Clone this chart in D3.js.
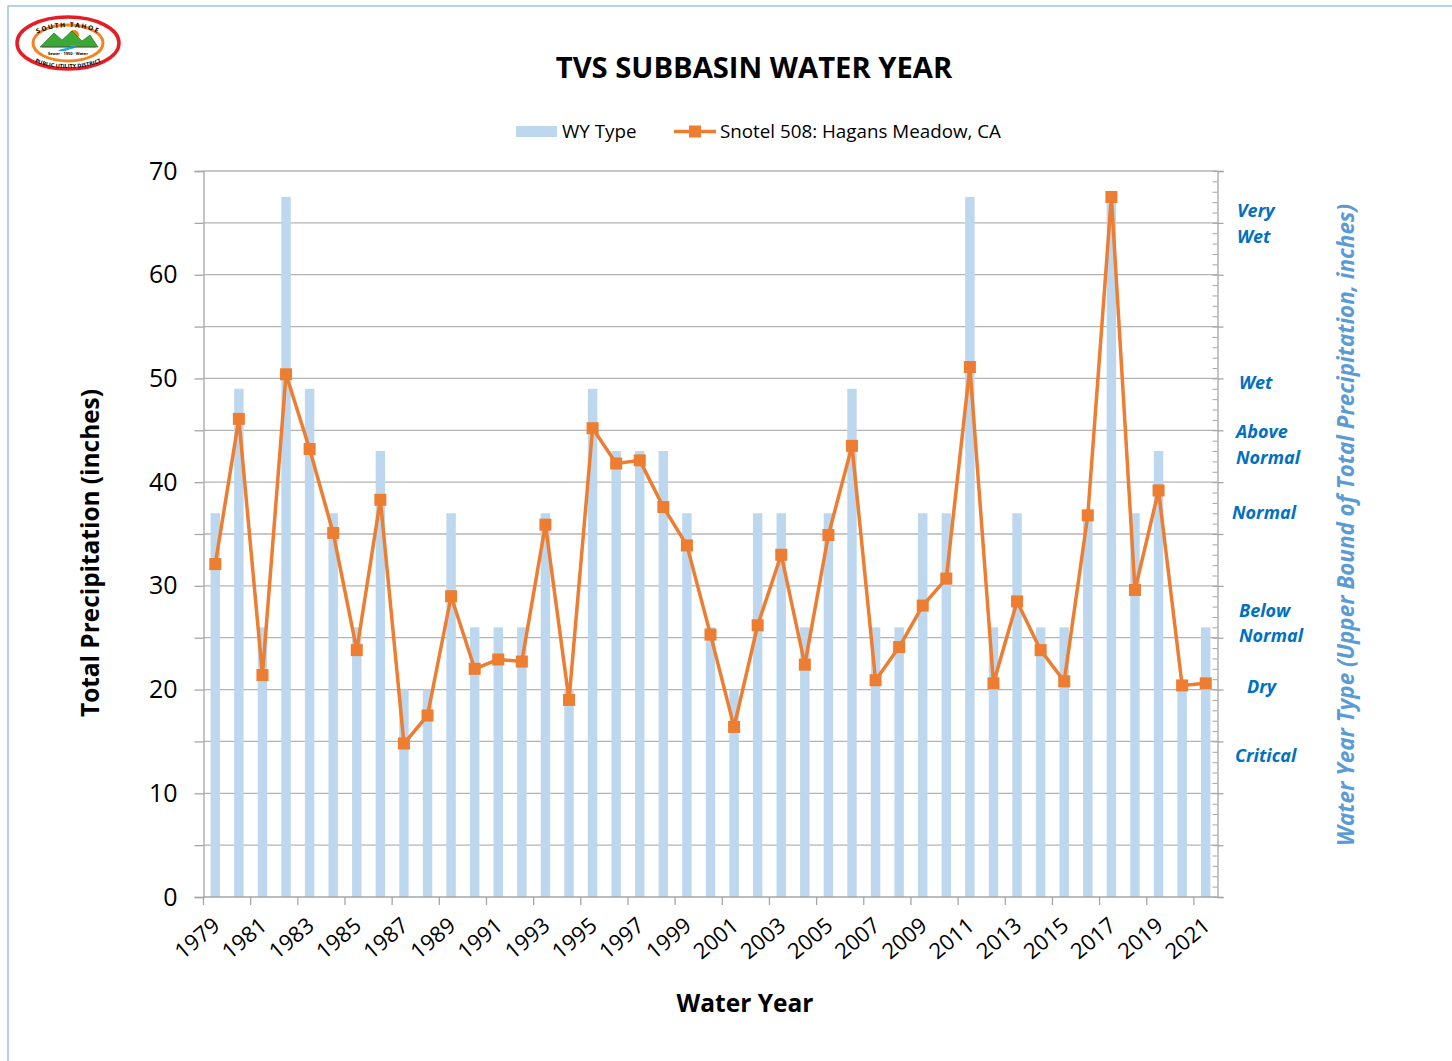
<!DOCTYPE html>
<html>
<head>
<meta charset="utf-8">
<title>TVS Subbasin Water Year</title>
<script src="https://cdn.jsdelivr.net/npm/d3@7"></script>
<style>
  body { margin: 0; background: #fff; }
  svg { display: block; font-family: "Open Sans", sans-serif; }
</style>
</head>
<body>
<div id="chart"></div>
<script>
// water years (categories)
var years = [1979, 1980, 1981, 1982, 1983, 1984, 1985, 1986, 1987, 1988,
             1989, 1990, 1991, 1992, 1993, 1994, 1995, 1996, 1997, 1998,
             1999, 2000, 2001, 2002, 2003, 2004, 2005, 2006, 2007, 2008,
             2009, 2010, 2011, 2012, 2013, 2014, 2015, 2016, 2017, 2018,
             2019, 2020, 2021];
// WY type = upper bound of the class (inches)
var wyType = [37, 49, 26, 67.5, 49, 37, 26, 43, 20, 20,
              37, 26, 26, 26, 37, 20, 49, 43, 43, 43,
              37, 26, 20, 37, 37, 26, 37, 49, 26, 26,
              37, 37, 67.5, 26, 37, 26, 26, 37, 67.5, 37,
              43, 20, 26];
// Snotel 508: Hagans Meadow, CA total precipitation (inches)
var snotel = [32.1, 46.1, 21.4, 50.4, 43.2, 35.1, 23.8, 38.3, 14.8, 17.5,
              29.0, 22.0, 22.9, 22.7, 35.9, 19.0, 45.2, 41.8, 42.1, 37.6,
              33.9, 25.3, 16.4, 26.2, 33.0, 22.4, 34.9, 43.5, 20.9, 24.1,
              28.1, 30.7, 51.1, 20.6, 28.5, 23.8, 20.8, 36.8, 67.5, 29.6,
              39.2, 20.4, 20.6];
var yTickLabels = [0, 10, 20, 30, 40, 50, 60, 70];
var xTickLabels = [1979, 1981, 1983, 1985, 1987, 1989, 1991, 1993, 1995, 1997, 1999,
                   2001, 2003, 2005, 2007, 2009, 2011, 2013, 2015, 2017, 2019, 2021];
// water year classes shown on the right axis, and where each label sits (inches)
var wyClasses = [["Very", "Wet"], ["Wet"], ["Above", "Normal"], ["Normal"],
                 ["Below", "Normal"], ["Dry"], ["Critical"]];
var wyClassAt = [64.9, 49.6, 43.6, 37.1, 26.4, 20.3, 13.6];

var W = 1452, H = 1061;
var plot = { left: 203.5, right: 1217.5, top: 171, bottom: 897 };
var axisGray = "#A6A6A6";

var svg = d3.select("#chart").append("svg")
    .attr("width", W)
    .attr("height", H);

// chart area border (left + top edges visible)
svg.append("path")
    .attr("d", "M8," + H + "V6H" + W)
    .attr("fill", "none")
    .attr("stroke", "#9DC3E6")
    .attr("stroke-width", 1.5);

// ---- logo ----
var logo = svg.append("g").attr("transform", "translate(68,43)");
logo.append("ellipse").attr("rx", 51).attr("ry", 26)
    .attr("fill", "#fff").attr("stroke", "#E31E24").attr("stroke-width", 3.5);
logo.append("ellipse").attr("rx", 35).attr("ry", 18)
    .attr("fill", "#fff").attr("stroke", "#F58220").attr("stroke-width", 3);
logo.append("circle").attr("cx", 6).attr("cy", -8).attr("r", 5).attr("fill", "#F58220");
logo.append("path")
    .attr("d", "M-28,4 L-14,-10 L-6,-3 L4,-12 L14,-2 L22,-8 L30,4 Z")
    .attr("fill", "#3BAA35").attr("stroke", "#1f5d1c").attr("stroke-width", 0.6);
logo.append("path")
    .attr("d", "M-10,8 C-6,4 4,6 2,2 L8,2 C10,6 0,6 -2,8 Z")
    .attr("fill", "#29ABE2");
logo.append("path")
    .attr("d", "M-26,4 H28")
    .attr("stroke", "#555").attr("stroke-width", 0.8);
var defs = svg.append("defs");
defs.append("path").attr("id", "logoTop")
    .attr("d", "M-40,-2 A43,22 0 0 1 40,-2");
defs.append("path").attr("id", "logoBot")
    .attr("d", "M-40,14 A42,16 0 0 0 40,14");
logo.append("text").attr("font-size", 6.5).attr("font-weight", "bold")
    .append("textPath").attr("href", "#logoTop").attr("startOffset", "50%")
    .attr("text-anchor", "middle").attr("letter-spacing", 1.5).text("SOUTH TAHOE");
logo.append("text").attr("font-size", 5.5).attr("font-weight", "bold")
    .append("textPath").attr("href", "#logoBot").attr("startOffset", "50%")
    .attr("text-anchor", "middle").text("PUBLIC UTILITY DISTRICT");
logo.append("text").attr("y", 12).attr("text-anchor", "middle")
    .attr("font-size", 4).attr("font-weight", "bold").text("Sewer · 1950 · Water");

// ---- title ----
svg.append("text")
    .attr("x", 754).attr("y", 78)
    .attr("text-anchor", "middle")
    .attr("font-size", 29.2).attr("font-weight", "bold")
    .text("TVS SUBBASIN WATER YEAR");

// ---- scales ----
var x = d3.scaleBand()
    .domain(years)
    .range([plot.left, plot.right])
    .paddingInner(0.6)
    .paddingOuter(0.3);
var y = d3.scaleLinear()
    .domain([0, 70])
    .range([plot.bottom, plot.top]);
var gap = (x.step() - x.bandwidth()) / 2;

// gridlines every 5
svg.append("g")
    .selectAll("line")
    .data(d3.range(5, 75, 5))
    .enter().append("line")
    .attr("x1", plot.left).attr("x2", plot.right)
    .attr("y1", d => y(d)).attr("y2", d => y(d))
    .attr("stroke", "#B4B4B4").attr("stroke-width", 1.3);

// left axis
var yAxis = svg.append("g")
    .attr("transform", "translate(" + plot.left + ",0)")
    .call(d3.axisLeft(y)
        .tickValues(d3.range(0, 75, 5))
        .tickSize(9)
        .tickPadding(17)
        .tickFormat(d => yTickLabels.indexOf(d) >= 0 ? d : ""));
yAxis.select(".domain").attr("stroke", axisGray).attr("stroke-width", 1.3);
yAxis.selectAll(".tick line").attr("stroke", axisGray).attr("stroke-width", 1.3);
yAxis.selectAll(".tick text").attr("font-size", 25).attr("fill", "#000")
    .attr("font-family", "Open Sans");

// right axis: major ticks crossing, minor ticks inside
var rMajor = svg.append("g")
    .attr("transform", "translate(" + plot.right + ",0)")
    .call(d3.axisRight(y).tickValues(d3.range(0, 75, 5)).tickSize(6).tickFormat(""));
rMajor.select(".domain").attr("stroke", axisGray).attr("stroke-width", 1.3);
rMajor.selectAll(".tick line").attr("stroke", axisGray).attr("stroke-width", 1.3);
var rMinor = svg.append("g")
    .attr("transform", "translate(" + plot.right + ",0)")
    .call(d3.axisLeft(y).tickValues(d3.range(0, 71, 1)).tickSize(5).tickFormat(""));
rMinor.select(".domain").remove();
rMinor.selectAll(".tick line").attr("stroke", axisGray).attr("stroke-width", 1);

// bars (WY type)
svg.append("g")
    .selectAll("rect")
    .data(years)
    .enter().append("rect")
    .attr("x", d => x(d))
    .attr("y", (d, i) => y(wyType[i]))
    .attr("width", x.bandwidth())
    .attr("height", (d, i) => plot.bottom - y(wyType[i]))
    .attr("fill", "#BDD7EE");

// bottom axis
svg.append("line")
    .attr("x1", plot.left).attr("x2", plot.right)
    .attr("y1", plot.bottom).attr("y2", plot.bottom)
    .attr("stroke", axisGray).attr("stroke-width", 1.3);
svg.append("g")
    .selectAll("line")
    .data(xTickLabels)
    .enter().append("line")
    .attr("x1", d => x(d) - gap).attr("x2", d => x(d) - gap)
    .attr("y1", plot.bottom).attr("y2", plot.bottom + 8)
    .attr("stroke", axisGray).attr("stroke-width", 1.3);
svg.append("g")
    .selectAll("text")
    .data(xTickLabels)
    .enter().append("text")
    .attr("transform", d => "translate(" + (x(d) + x.bandwidth() / 2 + 6) + "," + (plot.bottom + 31) + ") rotate(-40)")
    .attr("text-anchor", "end")
    .attr("font-size", 22)
    .text(d => d);

// Snotel line
var pts = years.map((yr, i) => ({ year: yr, v: snotel[i] }));
var orange = "#ED7D31";
svg.append("path")
    .datum(pts)
    .attr("d", d3.line().x(d => x(d.year) + x.bandwidth() / 2).y(d => y(d.v)))
    .attr("fill", "none")
    .attr("stroke", orange)
    .attr("stroke-width", 3.5)
    .attr("stroke-linejoin", "round");
svg.append("g")
    .selectAll("rect")
    .data(pts)
    .enter().append("rect")
    .attr("x", d => x(d.year) + x.bandwidth() / 2 - 6)
    .attr("y", d => y(d.v) - 6)
    .attr("width", 12).attr("height", 12)
    .attr("fill", orange);

// axis titles
svg.append("text")
    .attr("transform", "translate(99,553) rotate(-90)")
    .attr("text-anchor", "middle")
    .attr("font-size", 24.4).attr("font-weight", "bold")
    .text("Total Precipitation (inches)");
svg.append("text")
    .attr("x", 745).attr("y", 1012)
    .attr("text-anchor", "middle")
    .attr("font-size", 24.5).attr("font-weight", "bold")
    .text("Water Year");
svg.append("text")
    .attr("transform", "translate(1354,525) rotate(-90)")
    .attr("text-anchor", "middle")
    .attr("font-size", 22.4).attr("font-weight", "bold").attr("font-style", "italic")
    .attr("fill", "#5B9BD5")
    .text("Water Year Type (Upper Bound of Total Precipitation, inches)");

// class labels on the right
var classX = [1237, 1239, 1236, 1232, 1239, 1247, 1235];
var cls = svg.append("g")
    .selectAll("text")
    .data(wyClasses)
    .enter().append("text")
    .attr("x", (d, i) => classX[i])
    .attr("y", (d, i) => y(wyClassAt[i]) - (d.length - 1) * 12.8)
    .attr("font-size", 18).attr("font-weight", "bold").attr("font-style", "italic")
    .attr("fill", "#0070C0");
cls.selectAll("tspan")
    .data(d => d)
    .enter().append("tspan")
    .attr("x", function () { return d3.select(this.parentNode).attr("x"); })
    .attr("dy", (d, i) => i === 0 ? "0.35em" : 25.6)
    .text(d => d);

// legend
var lg = svg.append("g").attr("font-size", 18.8);
lg.append("rect").attr("x", 516).attr("y", 126).attr("width", 41).attr("height", 11).attr("fill", "#BDD7EE");
lg.append("text").attr("x", 562).attr("y", 131.5).attr("dy", "0.35em").text("WY Type");
lg.append("line").attr("x1", 674).attr("x2", 716).attr("y1", 131.5).attr("y2", 131.5)
    .attr("stroke", orange).attr("stroke-width", 3.5);
lg.append("rect").attr("x", 689).attr("y", 125.5).attr("width", 12).attr("height", 12).attr("fill", orange);
lg.append("text").attr("x", 720).attr("y", 131.5).attr("dy", "0.35em").text("Snotel 508: Hagans Meadow, CA");
</script>
</body>
</html>
